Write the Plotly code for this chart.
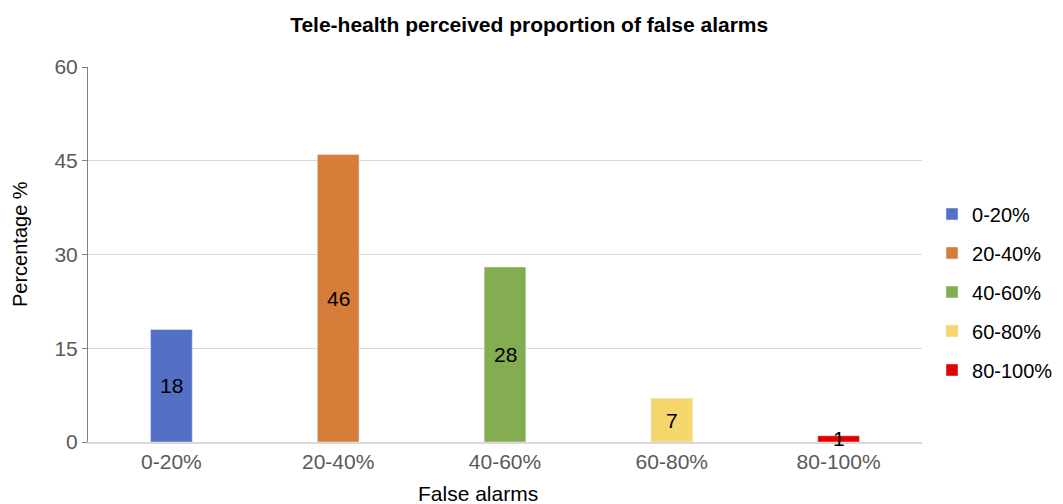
import plotly.graph_objects as go

categories = ["0-20%", "20-40%", "40-60%", "60-80%", "80-100%"]
values = [18, 46, 28, 7, 1]
colors = ["#5470c6", "#d67d3a", "#84ac50", "#f5d76e", "#e00000"]

fig = go.Figure()
for i, (c, v) in enumerate(zip(categories, values)):
    fig.add_trace(go.Bar(
        x=[c], y=[v], name=c, marker_color=colors[i], width=0.25,
        legendgroup=c, hoverinfo="x+y",
    ))
    fig.add_annotation(x=c, y=v / 2, text=str(v), showarrow=False,
                       font=dict(family="Liberation Sans, Arial", size=21, color="#000000"))

# axis titles
fig.add_annotation(text="False alarms", xref="paper", yref="paper", x=0.468, y=-0.136,
                   xanchor="center", yanchor="middle", showarrow=False,
                   font=dict(family="Liberation Sans, Arial", size=21, color="#000000"))
fig.add_annotation(text="Percentage %", xref="paper", yref="paper", x=-0.0815, y=0.528,
                   xanchor="center", yanchor="middle", showarrow=False, textangle=-90,
                   font=dict(family="Liberation Sans, Arial", size=20, color="#000000"))

# the page body has an 8px margin, so the figure is placed at (8, 8)
fig.update_layout(
    width=1055, height=496,
    paper_bgcolor="white", plot_bgcolor="white",
    margin=dict(l=80, r=141, t=59, b=62, autoexpand=False),
    barmode="overlay",
    title=dict(text="<b>Tele-health perceived proportion of false alarms</b>",
               x=0.494, xref="container", xanchor="center", y=0.966, yanchor="middle",
               automargin=False,
               font=dict(family="Liberation Sans, Arial", size=21, color="#000000")),
    font=dict(family="Liberation Sans, Arial", size=20, color="#595959"),
    legend=dict(x=1.012, xanchor="left", y=0.4, yanchor="middle",
                font=dict(size=20, color="#000000"), tracegroupgap=10,
                itemwidth=30),
    showlegend=True,
)
fig.update_yaxes(range=[0, 60], tickvals=[0, 15, 30, 45, 60], automargin=False,
                 showgrid=True, gridcolor="#d9d9d9", gridwidth=1,
                 showline=True, linecolor="#808080", linewidth=1,
                 ticks="outside", ticklen=5, tickcolor="#808080",
                 zeroline=False,
                 tickfont=dict(size=21, color="#595959"))
fig.update_xaxes(showline=True, linecolor="#d9d9d9", linewidth=2, automargin=False,
                 ticks="", tickfont=dict(size=21, color="#595959"))

fig.write_html("out.html")
